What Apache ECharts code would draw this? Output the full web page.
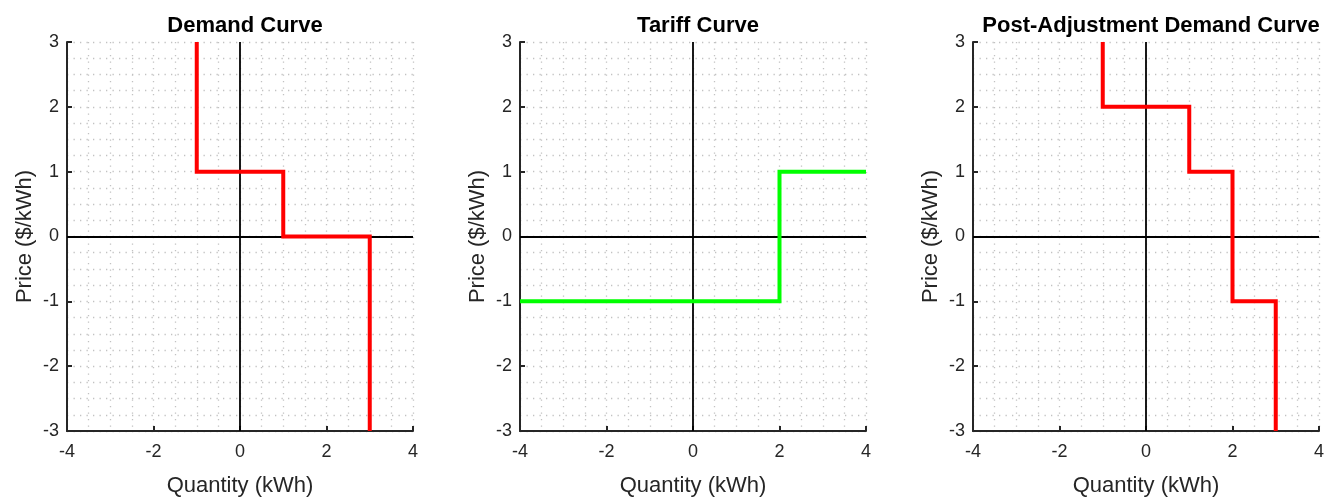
<!DOCTYPE html>
<html>
<head>
<meta charset="utf-8">
<script src="https://cdn.jsdelivr.net/npm/echarts@6/dist/echarts.min.js"></script>
<style>
  html, body { margin: 0; padding: 0; background: #fff; }
  #chart { width: 1339px; height: 499px; }
</style>
</head>
<body>
<div id="chart"></div>
<script>
// panel titles
var titles = ['Demand Curve', 'Tariff Curve', 'Post-Adjustment Demand Curve'];

// step curves as (quantity, price) vertices
var demandQ = [-1, -1, 1, 1, 3, 3];
var demandP = [3, 1, 1, 0, 0, -3];
var tariffQ = [-4, 2, 2, 4];
var tariffP = [-1, -1, 1, 1];
var postQ = [-1, -1, 1, 1, 2, 2, 3, 3];
var postP = [3, 2, 2, 1, 1, -1, -1, -3];

var curveColors = ['#ff0000', '#00ff00', '#ff0000'];

function pairs(q, p) {
  var out = [];
  for (var i = 0; i < q.length; i++) out.push([q[i], p[i]]);
  return out;
}
var curves = [pairs(demandQ, demandP), pairs(tariffQ, tariffP), pairs(postQ, postP)];

var lefts = [67, 520, 973];
var gridW = 346, gridTop = 42, gridH = 389;
var font = 'Liberation Sans, Arial, sans-serif';
var textCol = '#262626';

var grids = [], xAxes = [], yAxes = [], series = [], titleOpts = [];

var dotted = { color: '#c2c2c2', width: 1.3, type: [1.3, 5.2] };

for (var k = 0; k < 3; k++) {
  grids.push({ left: lefts[k], top: gridTop, width: gridW, height: gridH, outerBoundsMode: 'none', containLabel: false });
  titleOpts.push({
    text: titles[k],
    left: lefts[k] + gridW / 2,
    top: 10,
    textAlign: 'center',
    textStyle: { fontFamily: font, fontSize: 22, fontWeight: 'bold', color: '#000' }
  });
  xAxes.push({
    gridIndex: k, type: 'value', min: -4, max: 4, interval: 2,
    name: 'Quantity (kWh)', nameLocation: 'middle', nameGap: 44,
    nameTextStyle: { fontFamily: font, fontSize: 22, color: textCol },
    axisLine: { show: true, onZero: false, lineStyle: { color: textCol, width: 2 } },
    axisTick: { show: true, inside: true, length: 5, lineStyle: { color: textCol, width: 2 } },
    axisLabel: { fontFamily: font, fontSize: 18, color: textCol, margin: 12 },
    splitLine: { show: true, lineStyle: dotted },
    minorTick: { show: false, splitNumber: 4 },
    minorSplitLine: { show: true, lineStyle: dotted }
  });
  yAxes.push({
    gridIndex: k, type: 'value', min: -3, max: 3, interval: 1,
    name: 'Price ($/kWh)', nameLocation: 'middle', nameGap: 31,
    nameTextStyle: { fontFamily: font, fontSize: 22, color: textCol },
    axisLine: { show: true, onZero: false, lineStyle: { color: textCol, width: 2 } },
    axisTick: { show: true, inside: true, length: 5, lineStyle: { color: textCol, width: 2 } },
    axisLabel: { fontFamily: font, fontSize: 18, color: textCol, margin: 8 },
    splitLine: { show: true, lineStyle: dotted },
    minorTick: { show: false, splitNumber: 4 },
    minorSplitLine: { show: true, lineStyle: dotted }
  });
  // black zero lines, kept under the curve
  series.push({
    type: 'line', xAxisIndex: k, yAxisIndex: k, data: [],
    silent: true, symbol: 'none', z: 1,
    markLine: {
      silent: true, symbol: 'none', animation: false, z: 1,
      label: { show: false },
      lineStyle: { color: '#000', width: 1.8, type: 'solid' },
      data: [{ xAxis: 0 }, { yAxis: 0 }]
    }
  });
  series.push({
    type: 'line', xAxisIndex: k, yAxisIndex: k, data: curves[k],
    symbol: 'none', animation: false, z: 10,
    lineStyle: { color: curveColors[k], width: 4, join: 'miter', cap: 'butt' }
  });
}

var chart = echarts.init(document.getElementById('chart'));
chart.setOption({
  backgroundColor: '#fff',
  animation: false,
  title: titleOpts,
  grid: grids,
  xAxis: xAxes,
  yAxis: yAxes,
  series: series
});
</script>
</body>
</html>
